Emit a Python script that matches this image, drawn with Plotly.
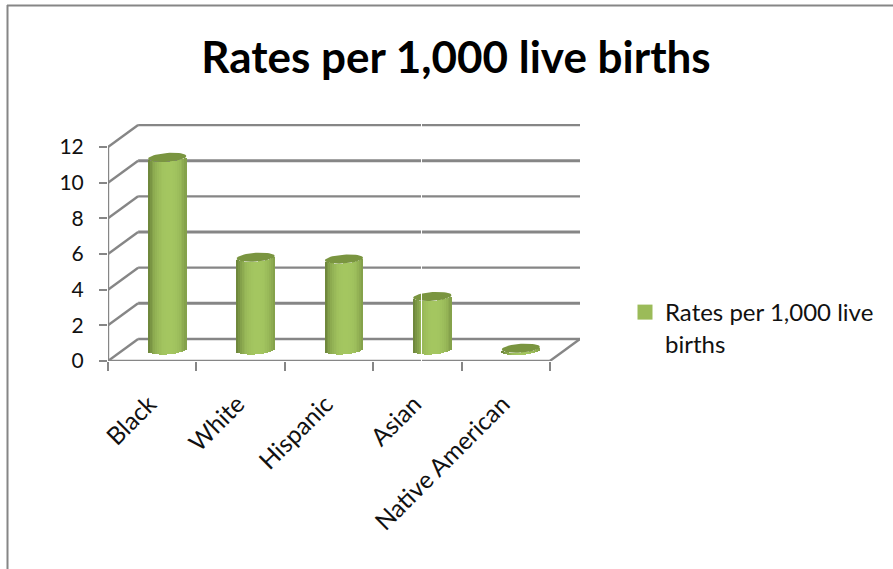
import math
import plotly.graph_objects as go

categories = ["Black", "White", "Hispanic", "Asian", "Native American"]
rates = [10.8, 5.2, 5.1, 3.0, 0.1]
y_ticks = [0, 2, 4, 6, 8, 10, 12]
title = "Rates per 1,000 live births"
legend_label = "Rates per 1,000 live<br>births"

FONT = "Lato"
GRID = "#868686"
PX_X = 88.0           # pixels per category
PX_Y = 214 / 12.0     # pixels per value unit
DX = 30 / PX_X        # depth offset of back wall
DY = 22 / PX_Y
A = 19 / PX_X         # cylinder half width
B = 4.4 / PX_Y        # ellipse half height
TILT = 1.3 / PX_Y
N = 21
x0, x1 = -0.5, len(categories) - 0.5

def shade(u):
    light, dark = (164, 198, 96), (104, 128, 56)
    t = min(1.0, abs(u - 0.1) / 1.1) ** 2.6
    return "rgb(%d,%d,%d)" % tuple(round(l + (d - l) * t) for l, d in zip(light, dark))

fig = go.Figure()
for k in range(N):
    u = -1 + (2 * k + 1) / N
    low = -B * math.sqrt(1 - u * u) + TILT * u
    fig.add_trace(go.Bar(
        x=[i + DX / 2 + u * A for i in range(len(categories))],
        y=rates,
        base=[DY / 2 + low] * len(rates),
        width=2 * A / N * 1.25,
        marker=dict(color=shade(u), line=dict(width=0)),
        showlegend=False, hoverinfo="skip"))

steps = [2 * math.pi * j / 48 for j in range(49)]
for i, v in enumerate(rates):
    fig.add_trace(go.Scatter(
        x=[i + DX / 2 + A * math.cos(t) for t in steps],
        y=[v + DY / 2 + B * math.sin(t) + TILT * math.cos(t) for t in steps],
        mode="lines", fill="toself", fillcolor="#7a9540",
        line=dict(width=0, color="#7a9540"),
        showlegend=False, hoverinfo="skip"))

fig.add_trace(go.Scatter(
    x=[None], y=[None], mode="markers", name=legend_label,
    marker=dict(symbol="square", size=15, color="#9BBB59")))

shapes = []
def seg(a, b, c, d, w=2.4):
    shapes.append(dict(type="line", xref="x", yref="y", x0=a, y0=b, x1=c, y1=d,
                       layer="below", line=dict(color=GRID, width=w)))

for v in y_ticks:
    seg(x0, v, x0 + DX, v + DY)
    seg(x0 + DX, v + DY, x1 + DX, v + DY, 3 if 0 < v < 12 and v % 4 == 2 else 2.4)
seg(x0, 0, x0, max(y_ticks))
seg(x0, 0, x1, 0)
seg(x1, 0, x1 + DX, DY)

# page frame and the white seam of the original picture
for sh in [
    dict(x0=7.5, x1=7.5, y0=5, y1=569),
    dict(x0=7, x1=893, y0=5.5, y1=5.5),
]:
    shapes.append(dict(type="line", xref="paper", yref="paper",
                       x0=(sh["x0"] - 108) / 472, x1=(sh["x1"] - 108) / 472,
                       y0=(361 - sh["y0"]) / 237, y1=(361 - sh["y1"]) / 237,
                       line=dict(color=GRID, width=2)))
shapes.append(dict(type="line", xref="paper", yref="paper",
                   x0=(421.5 - 108) / 472, x1=(421.5 - 108) / 472,
                   y0=-0.02, y1=1.02, line=dict(color="white", width=1)))

fig.update_layout(
    width=893, height=569, autosize=False,
    margin=dict(l=108, r=313, t=124, b=208),
    paper_bgcolor="white", plot_bgcolor="white",
    barmode="overlay", bargap=0,
    font=dict(family=FONT, color="#111111", size=19),
    title=dict(text="<b>" + title + "</b>", x=456 / 893, xanchor="center",
               y=1 - 58 / 569, yanchor="middle",
               font=dict(family=FONT, size=44, color="#000000")),
    shapes=shapes,
    showlegend=True,
    legend=dict(x=(625 - 108) / 472, y=(361 - 290) / 237, xanchor="left", yanchor="top",
                font=dict(family=FONT, size=24, color="#111111"),
                bgcolor="rgba(0,0,0,0)", itemwidth=30, valign="top"),
    xaxis=dict(range=[x0, x1 + DX], showgrid=False, zeroline=False, showline=False,
               tickmode="array", tickvals=list(range(len(categories))), ticktext=categories,
               tickangle=-45, ticks="", ticklabelstandoff=23, ticklabelshift=-3,
               minor=dict(tickmode="array", tickvals=[x0 + i for i in range(len(categories) + 1)],
                          ticks="outside", ticklen=9, tickwidth=2, tickcolor=GRID, showgrid=False),
               tickfont=dict(family=FONT, size=24.5, color="#111111")),
    yaxis=dict(range=[0, 237 / PX_Y], showgrid=False, zeroline=False, showline=False,
               tickmode="array", tickvals=y_ticks, ticks="outside", ticklen=8, tickwidth=2,
               tickcolor=GRID, ticklabelstandoff=11,
               tickfont=dict(family=FONT, size=21, color="#111111")),
)
fig.write_html("out.html", config=dict(displayModeBar=False),
               post_script="document.body.style.margin='0';document.body.style.overflow='hidden';")
